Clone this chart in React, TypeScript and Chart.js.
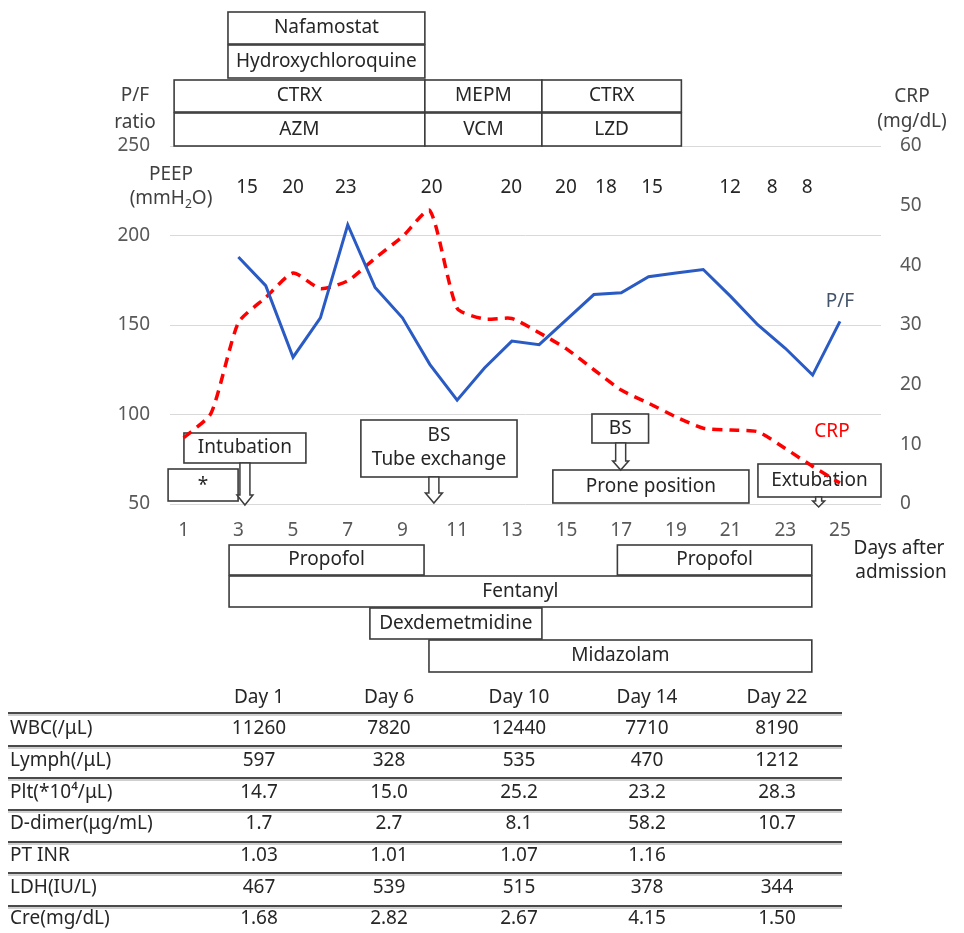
import React, { useEffect, useRef } from 'react';
import { Chart, registerables } from 'chart.js';

Chart.register(...registerables);

// ---------- data ----------
const xTickDays = [1, 3, 5, 7, 9, 11, 13, 15, 17, 19, 21, 23, 25];

const pfDays = [3, 4, 5, 6, 7, 8, 9, 10, 11, 12, 13, 14, 15, 16, 17, 18, 19, 20, 21, 22, 23, 24, 25];
const pfValues = [188, 172, 132, 154, 206, 171, 154, 128, 108, 126, 141, 139, 153, 167, 168, 177, 179, 181, 166, 150, 137, 122, 152];

const crpDays = [1, 2, 3, 4, 5, 6, 7, 8, 9, 10, 11, 12, 13, 14, 15, 16, 17, 18, 19, 20, 21, 22, 23, 24, 25];
const crpValues = [11.1, 15.2, 30.4, 34.6, 38.7, 36.1, 37.4, 41.2, 44.8, 49.2, 32.8, 31.0, 31.1, 28.7, 26.0, 22.5, 19.1, 16.9, 14.6, 12.7, 12.4, 12.1, 9.3, 6.3, 3.5];

const peepDays = [3.32, 5, 6.93, 10.07, 12.98, 14.98, 16.44, 18.13, 20.98, 22.52, 23.8];
const peepValues = ['15', '20', '23', '20', '20', '20', '18', '15', '12', '8', '8'];

const tableDays = ['Day 1', 'Day 6', 'Day 10', 'Day 14', 'Day 22'];
const tableRows = ['WBC(/μL)', 'Lymph(/μL)', 'Plt(*10⁴/μL)', 'D-dimer(μg/mL)', 'PT INR', 'LDH(IU/L)', 'Cre(mg/dL)'];
const colDay1 = ['11260', '597', '14.7', '1.7', '1.03', '467', '1.68'];
const colDay6 = ['7820', '328', '15.0', '2.7', '1.01', '539', '2.82'];
const colDay10 = ['12440', '535', '25.2', '8.1', '1.07', '515', '2.67'];
const colDay14 = ['7710', '470', '23.2', '58.2', '1.16', '378', '4.15'];
const colDay22 = ['8190', '1212', '28.3', '10.7', '', '344', '1.50'];
const tableCols = [colDay1, colDay6, colDay10, colDay14, colDay22];

// ---------- layout / style ----------
const W = 964;
const H = 933;
const FONT = '"Noto Sans", "DejaVu Sans", sans-serif';
const TICK_COLOR = '#595959';
const TEXT_COLOR = '#262626';
const LABEL_COLOR = '#404040';
const BOX_COLOR = '#3c3c3c';
const BLUE = '#2A5BC4';
const RED = '#FF0000';

const topBoxes = [
  { text: 'Nafamostat', d1: 2.62, d2: 9.82, y1: 12, y2: 44 },
  { text: 'Hydroxychloroquine', d1: 2.62, d2: 9.82, y1: 45, y2: 78 },
  { text: 'CTRX', d1: 0.65, d2: 9.82, y1: 80, y2: 112 },
  { text: 'AZM', d1: 0.65, d2: 9.82, y1: 113, y2: 146 },
  { text: 'MEPM', d1: 9.82, d2: 14.1, y1: 80, y2: 112 },
  { text: 'VCM', d1: 9.82, d2: 14.1, y1: 113, y2: 146 },
  { text: 'CTRX', d1: 14.1, d2: 19.2, y1: 80, y2: 112 },
  { text: 'LZD', d1: 14.1, d2: 19.2, y1: 113, y2: 146 },
];

const bottomBoxes = [
  { text: 'Propofol', d1: 2.66, d2: 9.79, y1: 545, y2: 575 },
  { text: 'Propofol', d1: 16.86, d2: 23.97, y1: 545, y2: 575 },
  { text: 'Fentanyl', d1: 2.66, d2: 23.97, y1: 576, y2: 607 },
  { text: 'Dexdemetmidine', d1: 7.81, d2: 14.1, y1: 608, y2: 639 },
  { text: 'Midazolam', d1: 9.97, d2: 23.97, y1: 640, y2: 672 },
];

const eventBoxes = [
  { lines: ['Intubation'], d1: 1.01, d2: 5.47, y1: 433, y2: 463 },
  { lines: ['*'], d1: 0.43, d2: 2.99, y1: 469, y2: 501 },
  { lines: ['BS', 'Tube exchange'], d1: 7.48, d2: 13.19, y1: 420, y2: 477 },
  { lines: ['BS'], d1: 15.93, d2: 18.0, y1: 414, y2: 443 },
  { lines: ['Prone position'], d1: 14.5, d2: 21.67, y1: 470, y2: 503 },
  { lines: ['Extubation'], d1: 22.0, d2: 26.5, y1: 464, y2: 497 },
];

const arrows = [
  { d: 3.24, y1: 463, y2: 505, shaft: 10, head: 16, headH: 10 },
  { d: 10.15, y1: 477, y2: 503, shaft: 10, head: 17, headH: 10 },
  { d: 16.98, y1: 443, y2: 470, shaft: 10, head: 16, headH: 9 },
  { d: 24.22, y1: 497, y2: 507, shaft: 6, head: 12, headH: 6 },
];

function drawBox(ctx: CanvasRenderingContext2D, x1: number, y1: number, x2: number, y2: number) {
  ctx.save();
  ctx.fillStyle = '#ffffff';
  ctx.fillRect(x1, y1, x2 - x1, y2 - y1);
  ctx.strokeStyle = BOX_COLOR;
  ctx.lineWidth = 1.6;
  ctx.strokeRect(x1, y1, x2 - x1, y2 - y1);
  ctx.restore();
}

function drawText(ctx: CanvasRenderingContext2D, s: string, x: number, y: number, color = TEXT_COLOR, size = 19, align: CanvasTextAlign = 'center') {
  ctx.save();
  ctx.font = `${size}px ${FONT}`;
  ctx.fillStyle = color;
  ctx.textAlign = align;
  ctx.textBaseline = 'middle';
  ctx.fillText(s, x, y);
  ctx.restore();
}

function drawArrow(ctx: CanvasRenderingContext2D, x: number, y1: number, y2: number, shaft: number, head: number, headH: number) {
  const hs = shaft / 2;
  const hh = head / 2;
  const yh = y2 - headH;
  ctx.save();
  ctx.beginPath();
  ctx.moveTo(x - hs, y1);
  ctx.lineTo(x + hs, y1);
  ctx.lineTo(x + hs, yh);
  ctx.lineTo(x + hh, yh);
  ctx.lineTo(x, y2);
  ctx.lineTo(x - hh, yh);
  ctx.lineTo(x - hs, yh);
  ctx.closePath();
  ctx.fillStyle = '#ffffff';
  ctx.fill();
  ctx.strokeStyle = BOX_COLOR;
  ctx.lineWidth = 1.5;
  ctx.stroke();
  ctx.restore();
}

const annotationPlugin = {
  id: 'clinicalAnnotations',
  beforeDatasetsDraw(chart: any) {
    const ctx: CanvasRenderingContext2D = chart.ctx;
    const xs = chart.scales.x;
    const px = (d: number) => xs.getPixelForValue(d);
    eventBoxes.forEach((b) => {
      const x1 = px(b.d1);
      const x2 = px(b.d2);
      drawBox(ctx, x1, b.y1, x2, b.y2);
      const cx = (x1 + x2) / 2;
      if (b.lines.length === 1) {
        drawText(ctx, b.lines[0], cx, (b.y1 + b.y2) / 2 + (b.lines[0] === '*' ? 1 : 0));
      } else {
        drawText(ctx, b.lines[0], cx, b.y1 + 16);
        drawText(ctx, b.lines[1], cx, b.y1 + 40);
      }
    });
    arrows.forEach((a) => drawArrow(ctx, px(a.d), a.y1, a.y2, a.shaft, a.head, a.headH));
  },
  afterDraw(chart: any) {
    const ctx: CanvasRenderingContext2D = chart.ctx;
    const xs = chart.scales.x;
    const px = (d: number) => xs.getPixelForValue(d);

    [...topBoxes, ...bottomBoxes].forEach((b) => {
      const x1 = px(b.d1);
      const x2 = px(b.d2);
      drawBox(ctx, x1, b.y1, x2, b.y2);
      drawText(ctx, b.text, (x1 + x2) / 2, (b.y1 + b.y2) / 2);
    });

    // axis titles
    drawText(ctx, 'P/F', 135, 96, LABEL_COLOR);
    drawText(ctx, 'ratio', 135, 123, LABEL_COLOR);
    drawText(ctx, 'CRP', 912, 97, LABEL_COLOR);
    drawText(ctx, '(mg/dL)', 912, 122, LABEL_COLOR);

    // PEEP label
    drawText(ctx, 'PEEP', 171, 175, LABEL_COLOR);
    ctx.save();
    ctx.font = `19px ${FONT}`;
    const a = '(mmH';
    const b = 'O)';
    const wa = ctx.measureText(a).width;
    const wb = ctx.measureText(b).width;
    ctx.font = `12px ${FONT}`;
    const ws = ctx.measureText('2').width;
    const total = wa + ws + wb;
    const x0 = 171 - total / 2;
    ctx.restore();
    drawText(ctx, a, x0, 199, LABEL_COLOR, 19, 'left');
    drawText(ctx, '2', x0 + wa, 205, LABEL_COLOR, 12, 'left');
    drawText(ctx, b, x0 + wa + ws, 199, LABEL_COLOR, 19, 'left');

    peepDays.forEach((d, i) => drawText(ctx, peepValues[i], px(d), 188, TEXT_COLOR));

    // series labels
    drawText(ctx, 'P/F', 840, 302, '#44546A');
    drawText(ctx, 'CRP', 832, 432, RED);

    // x axis title
    drawText(ctx, 'Days after', 899, 549, TEXT_COLOR);
    drawText(ctx, 'admission', 901, 573, TEXT_COLOR);

    // table
    const colX = [259, 389, 519, 647, 777];
    const rowY = [729, 761, 793, 824, 856, 888, 919];
    const lineY = [713, 746, 778, 810, 842, 873, 906];
    tableDays.forEach((t, i) => drawText(ctx, t, colX[i], 698, TEXT_COLOR));
    ctx.save();
    lineY.forEach((y) => {
      ctx.strokeStyle = '#4a4a4a';
      ctx.lineWidth = 2;
      ctx.beginPath();
      ctx.moveTo(8, y);
      ctx.lineTo(842, y);
      ctx.stroke();
      ctx.strokeStyle = '#a0a0a0';
      ctx.lineWidth = 1;
      ctx.beginPath();
      ctx.moveTo(8, y + 2);
      ctx.lineTo(842, y + 2);
      ctx.stroke();
    });
    ctx.restore();
    tableRows.forEach((r, ri) => {
      drawText(ctx, r, 10, rowY[ri], TEXT_COLOR, 19, 'left');
      tableCols.forEach((col, ci) => {
        if (col[ri]) drawText(ctx, col[ri], colX[ci], rowY[ri], TEXT_COLOR);
      });
    });
  },
};

export default function App() {
  const canvasRef = useRef<HTMLCanvasElement | null>(null);

  useEffect(() => {
    const canvas = canvasRef.current;
    if (!canvas) return;
    const tickFont = { family: FONT, size: 19 };
    const chart = new Chart(canvas, {
      type: 'line',
      data: {
        datasets: [
          {
            label: 'P/F',
            data: pfDays.map((d, i) => ({ x: d, y: pfValues[i] })),
            yAxisID: 'y',
            borderColor: BLUE,
            backgroundColor: BLUE,
            borderWidth: 3,
            pointRadius: 0,
            tension: 0,
            fill: false,
          },
          {
            label: 'CRP',
            data: crpDays.map((d, i) => ({ x: d, y: crpValues[i] })),
            yAxisID: 'y2',
            borderColor: RED,
            backgroundColor: RED,
            borderWidth: 3.5,
            borderDash: [10, 7],
            pointRadius: 0,
            tension: 0.2,
            fill: false,
          },
        ],
      },
      options: {
        responsive: false,
        animation: false,
        devicePixelRatio: 1,
        layout: { padding: { left: 0, right: 0, top: 146, bottom: 0 } },
        plugins: { legend: { display: false }, tooltip: { enabled: false } },
        scales: {
          x: {
            type: 'linear',
            min: 0.5,
            max: 26.5,
            grid: { display: false, drawTicks: false },
            border: { display: false },
            afterBuildTicks: (s: any) => {
              s.ticks = xTickDays.map((v) => ({ value: v }));
            },
            afterFit: (s: any) => {
              s.height = 429;
            },
            ticks: { color: TICK_COLOR, font: tickFont, padding: 15, maxRotation: 0, autoSkip: false },
          },
          y: {
            position: 'left',
            min: 50,
            max: 250,
            ticks: { stepSize: 50, padding: 20, color: TICK_COLOR, font: tickFont },
            grid: { color: '#d9d9d9', lineWidth: 1, drawTicks: false },
            border: { display: false },
            afterFit: (s: any) => {
              s.width = 170;
            },
          },
          y2: {
            position: 'right',
            min: 0,
            max: 60,
            ticks: { stepSize: 10, padding: 19, color: TICK_COLOR, font: tickFont },
            grid: { display: false, drawTicks: false },
            border: { display: false },
            afterFit: (s: any) => {
              s.width = 83;
            },
          },
        },
      } as any,
      plugins: [annotationPlugin],
    });
    return () => chart.destroy();
  }, []);

  return (
    <div style={{ position: 'fixed', left: 0, top: 0, width: W, height: H, background: '#ffffff' }}>
      <canvas ref={canvasRef} width={W} height={H} style={{ display: 'block', width: W, height: H }} />
    </div>
  );
}
